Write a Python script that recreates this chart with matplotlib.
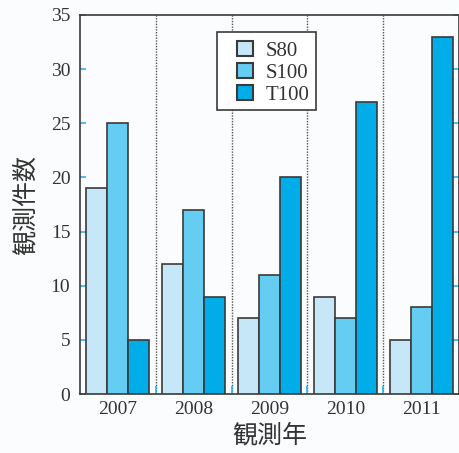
import numpy as np
import matplotlib
matplotlib.use('Agg')
import matplotlib.pyplot as plt
from matplotlib.patches import Rectangle

plt.rcParams['font.family'] = ['Liberation Serif', 'Noto Sans CJK JP']

years = ['2007', '2008', '2009', '2010', '2011']
s80 = [19, 12, 7, 9, 5]
s100 = [25, 17, 11, 7, 8]
t100 = [5, 9, 20, 27, 33]
series = [('S80', s80, '#c6e7f8'), ('S100', s100, '#66cdf2'), ('T100', t100, '#00ade9')]

fig = plt.figure(figsize=(4.6, 4.53), dpi=100, facecolor='#fbfcfd')
ax = fig.add_axes([0.174, 0.130, 0.824, 0.837])
ax.set_facecolor('#fbfcfd')

x = np.arange(len(years))
w = 0.277
for i, (name, vals, col) in enumerate(series):
    ax.bar(x + (i - 1) * w, vals, w, color=col, edgecolor='#3a3a3a', linewidth=1.2, label=name, zorder=3)

for b in x[:-1] + 0.5:
    ax.axvline(b, color='#555555', linestyle=(0, (1, 1)), linewidth=1.0, zorder=1)

ax.set_xlim(-0.5, 4.5)
ax.set_ylim(0, 35)
ax.set_yticks(range(0, 36, 5))
ax.set_xticks(x)
ax.set_xticklabels(years)
ax.set_xticks(x[:-1] + 0.5, minor=True)
ax.tick_params(axis='y', direction='in', length=4, width=1.2, color='#29b5ea', right=True,
               labelsize=14, labelcolor='#333333', pad=7)
ax.tick_params(axis='x', which='major', length=0, labelsize=14, labelcolor='#333333', pad=5)
ax.tick_params(axis='x', which='minor', direction='in', length=6, width=1.2, color='#29b5ea')
for s in ax.spines.values():
    s.set_color('#3a3a3a')
    s.set_linewidth(1.2)

ax.set_ylabel('観測件数', fontsize=18, color='#333333', family=['Noto Sans CJK JP'], labelpad=9)
ax.set_xlabel('観測年', fontsize=18, color='#333333', family=['Noto Sans CJK JP'], labelpad=3)

# legend without its own frame; the frame is drawn separately (wider on the left, as in the reference)
leg = ax.legend(loc='upper left', bbox_to_anchor=(0.414, 0.932), fontsize=15, frameon=False,
                handlelength=0.77, handleheight=0.77, handletextpad=0.6,
                borderpad=0, labelspacing=0.1, borderaxespad=0)
for t in leg.get_texts():
    t.set_color('#333333')
for h in leg.legend_handles:
    h.set_edgecolor('#3a3a3a')
    h.set_linewidth(1.5)
ax.add_patch(Rectangle((0.3615, 0.749), 0.261, 0.206, transform=ax.transAxes, facecolor='white',
                       edgecolor='#3a3a3a', linewidth=1.2, zorder=4))
leg.set_zorder(5)

fig.savefig('out.png', dpi=100, facecolor=fig.get_facecolor())
